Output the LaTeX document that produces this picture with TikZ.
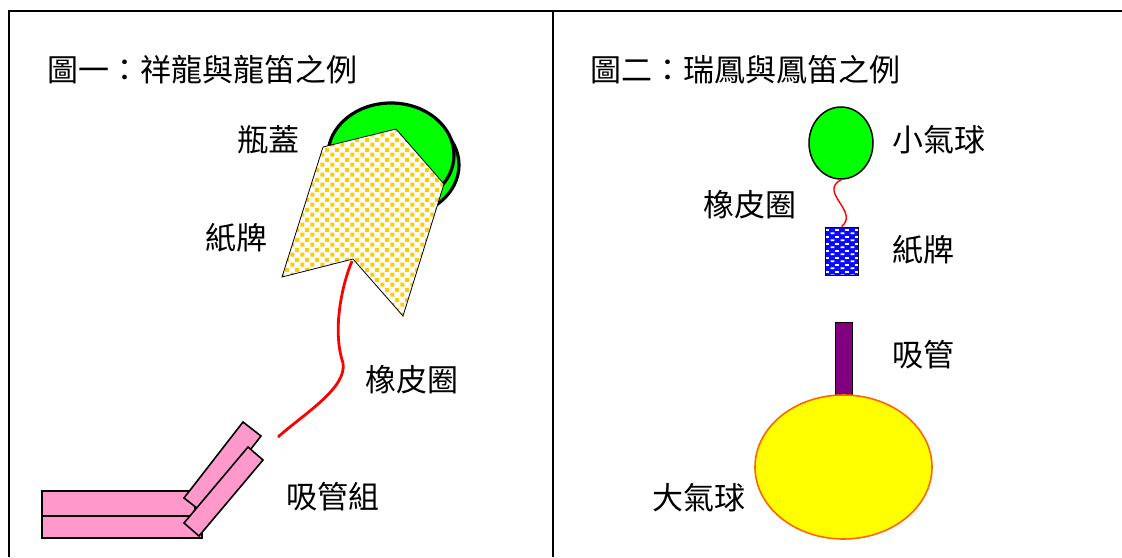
\documentclass[tikz,border=0pt]{standalone}
\usepackage{fontspec}
\setmainfont{Noto Sans CJK TC}
\usetikzlibrary{shapes.geometric,patterns}

% gold squares for the paper tag on the left
\pgfdeclarepatternformonly{goldsquares}{\pgfqpoint{0pt}{0pt}}{\pgfqpoint{10pt}{10pt}}{\pgfqpoint{10pt}{10pt}}{%
  \pgfpathrectangle{\pgfqpoint{0.5pt}{0.5pt}}{\pgfqpoint{4.2pt}{4.2pt}}%
  \pgfpathrectangle{\pgfqpoint{5.5pt}{5.5pt}}{\pgfqpoint{4.2pt}{4.2pt}}%
  \pgfusepath{fill}}
% white bricks for the small blue tag
\pgfdeclarepatternformonly{whitebricks}{\pgfqpoint{0pt}{0pt}}{\pgfqpoint{10pt}{7pt}}{\pgfqpoint{10pt}{7pt}}{%
  \pgfpathrectangle{\pgfqpoint{0.6pt}{1pt}}{\pgfqpoint{4pt}{2pt}}%
  \pgfpathrectangle{\pgfqpoint{5.6pt}{4.5pt}}{\pgfqpoint{4pt}{2pt}}%
  \pgfusepath{fill}}

\definecolor{capgreen}{HTML}{00FF00}
\definecolor{strawpink}{HTML}{FF99CC}
\definecolor{tiggold}{HTML}{FFCC00}
\definecolor{tagblue}{HTML}{0A0AFF}
\definecolor{pipepurple}{HTML}{800080}
\definecolor{ballyellow}{HTML}{FFFF00}
\definecolor{ballrim}{HTML}{FF6600}
\definecolor{bandred}{HTML}{FF0000}

\begin{document}
\begin{tikzpicture}[x=1pt,y=-1pt,
  lbl/.style={anchor=west,inner sep=0pt,font=\fontsize{31}{31}\selectfont},
  frameline/.style={line width=2pt},
  capline/.style={draw=black,line width=3.2pt,fill=capgreen},
  strawbox/.style={draw=black,line width=1.6pt,fill=strawpink,line join=miter},
  band/.style={draw=bandred,line width=2.8pt},
  thinband/.style={draw=bandred,line width=1.4pt}]
\useasboundingbox (0,0) rectangle (1122,557);

% frame and divider
\draw[frameline] (9,557) -- (9,11) -- (1122,11);
\draw[frameline] (553,11) -- (553,557);

% ---- left panel ----
\node[lbl] (title1) at (47,70) {圖一：祥龍與龍笛之例};

% bottle cap
\draw[capline] (396,165) ellipse [x radius=63, y radius=52];
\draw[capline] (391,155) ellipse [x radius=63, y radius=52];

% paper tag
\draw[line width=0.8pt,preaction={fill=white},pattern=goldsquares,pattern color=tiggold]
  (323,147) -- (396,129) -- (444,184) -- (403,316) -- (353,259) -- (282,277) -- cycle;
\coordinate (notch) at (352,261);

% straw set
\draw[strawbox] (42,491) rectangle (195,516);
\draw[strawbox] (42,516) rectangle (202,538);
\draw[strawbox] (184,498) -- (243,422) -- (261,436) -- (202,512) -- cycle;
\draw[strawbox] (184,523) -- (248,447) -- (263,460) -- (199,536) -- cycle;
\coordinate (strawtip) at (278,437);

% rubber band
\draw[band] (notch) .. controls (342,285) and (332,330) .. (343,363)
  .. controls (347,388) and (305,413) .. (strawtip);

\node[lbl] (capl)  at (237,140) {瓶蓋};
\node[lbl] (tagl)  at (205,238) {紙牌};
\node[lbl] (bandl) at (365,380) {橡皮圈};
\node[lbl] (strawl) at (286,497) {吸管組};

% ---- right panel ----
\node[lbl] (title2) at (590,70) {圖二：瑞鳳與鳳笛之例};

\node[ellipse,draw=black,line width=1.5pt,fill=capgreen,inner sep=0pt,
  minimum width=64pt,minimum height=72pt] (ball) at (841,143) {};
\node[draw=black,line width=1pt,inner sep=0pt,minimum width=33pt,minimum height=48pt,
  preaction={fill=tagblue},pattern=whitebricks,pattern color=white] (tag) at (841.5,251) {};
\draw[thinband] (ball.south) .. controls (818,192) and (860,212) .. (tag.north);

\node[draw=black,line width=1pt,fill=pipepurple,inner sep=0pt,
  minimum width=17pt,minimum height=74pt] (pipe) at (843.5,359) {};
\node[ellipse,draw=ballrim,line width=1.6pt,fill=ballyellow,inner sep=0pt,
  minimum width=177pt,minimum height=144pt] (big) at (843.5,467) {};

\node[lbl] (balll)  at (892,140) {小氣球};
\node[lbl] (bandr)  at (703,205) {橡皮圈};
\node[lbl] (tagr)   at (892,250) {紙牌};
\node[lbl] (pipel)  at (892,355) {吸管};
\node[lbl] (bigl)   at (652,498) {大氣球};
\end{tikzpicture}
\end{document}
